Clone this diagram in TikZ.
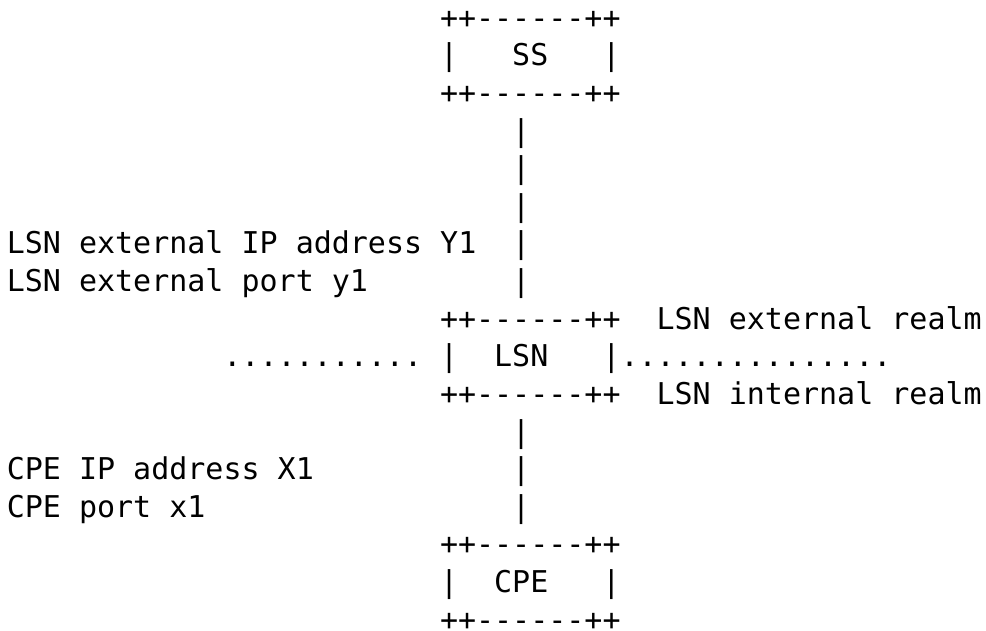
\documentclass[tikz,border=0pt]{standalone}
\usepackage{fontspec}
\setmonofont{DejaVu Sans Mono}
\usepackage{tikz}

\begin{document}
\begin{tikzpicture}[x=9.025pt, y=-18.8pt,
        ascii/.style={anchor=base west, inner sep=0pt, outer sep=0pt,
                      font=\ttfamily\fontsize{15}{18.8}\selectfont}]
        \useasboundingbox (-3.4pt,14.2pt) rectangle (489.6pt,-301.3pt);

        % the SS box
        \node[ascii] (ssTop) at (24,0) {++------++};
        \node[ascii] (ssL) at (24,1) {|};
        \node[ascii] (ss) at (28,1) {SS};
        \node[ascii] (ssR) at (33,1) {|};
        \node[ascii] (ssBot) at (24,2) {++------++};

        % the line from SS down to LSN
        \foreach \r in {3,...,7}
            \node[ascii] (up\r) at (28,\r) {|};

        % the LSN box with the realm border
        \node[ascii] (lsnTop) at (24,8) {++------++};
        \node[ascii] (dotsL) at (12,9) {...........};
        \node[ascii] (lsnL) at (24,9) {|};
        \node[ascii] (lsn) at (27,9) {LSN};
        \node[ascii] (lsnR) at (33,9) {|};
        \node[ascii] (dotsR) at (34,9) {...............};
        \node[ascii] (lsnBot) at (24,10) {++------++};

        % the line from LSN down to CPE
        \foreach \r in {11,12,13}
            \node[ascii] (down\r) at (28,\r) {|};

        % the CPE box
        \node[ascii] (cpeTop) at (24,14) {++------++};
        \node[ascii] (cpeL) at (24,15) {|};
        \node[ascii] (cpe) at (27,15) {CPE};
        \node[ascii] (cpeR) at (33,15) {|};
        \node[ascii] (cpeBot) at (24,16) {++------++};

        % the texts
        \node[ascii] (extIP) at (0,6) {LSN external IP address Y1};
        \node[ascii] (extPort) at (0,7) {LSN external port y1};
        \node[ascii] (extRealm) at (36,8) {LSN external realm};
        \node[ascii] (intRealm) at (36,10) {LSN internal realm};
        \node[ascii] (cpeIP) at (0,12) {CPE IP address X1};
        \node[ascii] (cpePort) at (0,13) {CPE port x1};

    \end{tikzpicture}
\end{document}
